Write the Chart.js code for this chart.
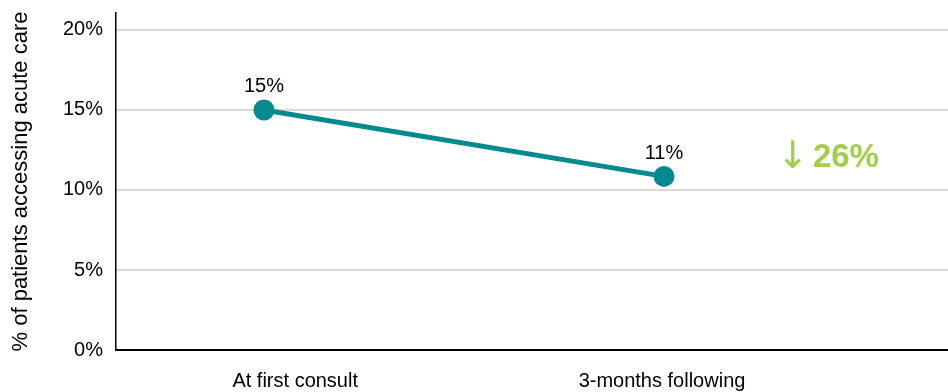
<!DOCTYPE html>
<html>
<head>
<meta charset="utf-8">
<script src="https://cdn.jsdelivr.net/npm/chart.js@4.4.1/dist/chart.umd.min.js"></script>
<style>
  html, body { margin: 0; padding: 0; background: #fff; }
  #wrap { width: 948px; height: 392px; }
</style>
</head>
<body>
<div id="wrap"><canvas id="acuteChart"></canvas></div>
<script>
//! =============== Data =============== //
const categories = ['At first consult', '3-months following'];
const acuteCare = [15, 10.85];
const yTicks = [0, 5, 10, 15, 20];
const changeText = ['\u2193', '26%'];

const TEAL = '#06898f';
const GREEN = '#a3cd4e';

//! =============== Change annotation =============== //
const changeLabel = {
  id: 'changeLabel',
  afterDatasetsDraw(chart) {
    const { ctx, scales: { x, y } } = chart;
    const cx = x.getPixelForValue(1.41);
    const cy = y.getPixelForValue(12.05);
    ctx.save();
    ctx.fillStyle = GREEN;
    ctx.textBaseline = 'middle';
    ctx.font = '38px "DejaVu Sans"';
    const wArrow = ctx.measureText(changeText[0]).width;
    ctx.font = 'bold 33px "Liberation Sans", Arial, sans-serif';
    const wNum = ctx.measureText(changeText[1]).width;
    const gap = 4;
    let left = cx - (wArrow + gap + wNum) / 2;
    ctx.font = '38px "DejaVu Sans"';
    ctx.textAlign = 'left';
    ctx.fillText(changeText[0], left, cy + 1);
    ctx.font = 'bold 33px "Liberation Sans", Arial, sans-serif';
    ctx.fillText(changeText[1], left + wArrow + gap, cy + 1);
    ctx.restore();
  }
};

//! =============== Point labels =============== //
const pointLabels = {
  id: 'pointLabels',
  afterDatasetsDraw(chart) {
    const { ctx } = chart;
    const meta = chart.getDatasetMeta(0);
    ctx.save();
    ctx.fillStyle = '#000';
    ctx.font = '20px "Liberation Sans", Arial, sans-serif';
    ctx.textAlign = 'center';
    ctx.textBaseline = 'middle';
    meta.data.forEach((pt, i) => {
      ctx.fillText(Math.round(acuteCare[i]) + '%', pt.x, pt.y - 23);
    });
    ctx.restore();
  }
};

//! =============== Chart.JS =============== //
const ctx = document.getElementById('acuteChart').getContext('2d');

const myChart = new Chart(ctx, {
  type: 'line',
  data: {
    datasets: [{
      data: acuteCare.map((v, i) => ({ x: i, y: v })),
      borderColor: TEAL,
      borderWidth: 5,
      backgroundColor: TEAL,
      pointRadius: 10.5,
      pointBackgroundColor: TEAL,
      pointBorderWidth: 0,
      tension: 0,
      fill: false
    }]
  },
  options: {
    responsive: true,
    maintainAspectRatio: false,
    animation: false,
    layout: { autoPadding: false, padding: { top: 13, right: 0, left: 0, bottom: 0 } },
    plugins: {
      legend: { display: false },
      tooltip: { enabled: false }
    },
    scales: {
      x: {
        type: 'linear',
        min: -0.37,
        max: 1.71,
        afterBuildTicks: (scale) => {
          scale.ticks = [{ value: 0.078 }, { value: 0.995 }];
        },
        afterFit: (scale) => {
          scale.height = 42;
          scale.paddingLeft = 0;
          scale.paddingRight = 0;
        },
        grid: { display: false, drawTicks: false },
        border: { display: true, color: '#000', width: 2 },
        ticks: {
          padding: 19,
          color: '#000',
          font: { family: '"Liberation Sans", Arial, sans-serif', size: 20 },
          callback: (value, index) => categories[index]
        }
      },
      y: {
        min: 0,
        max: 21.06,
        afterBuildTicks: (scale) => {
          scale.ticks = yTicks.map(v => ({ value: v }));
        },
        afterFit: (scale) => {
          scale.width = 116;
          scale.paddingTop = 0;
          scale.paddingBottom = 0;
        },
        grid: { color: '#d9d9d9', lineWidth: 2, drawTicks: false },
        border: { display: true, color: '#000', width: 1.5 },
        ticks: {
          padding: 13,
          color: '#000',
          font: { family: '"Liberation Sans", Arial, sans-serif', size: 20 },
          callback: value => value + '%'
        },
        title: {
          display: true,
          text: '% of patients accessing acute care',
          color: '#000',
          font: { family: '"Liberation Sans", Arial, sans-serif', size: 22 },
          padding: { top: 8, bottom: 0 }
        }
      }
    }
  },
  plugins: [pointLabels, changeLabel]
});
</script>
</body>
</html>
